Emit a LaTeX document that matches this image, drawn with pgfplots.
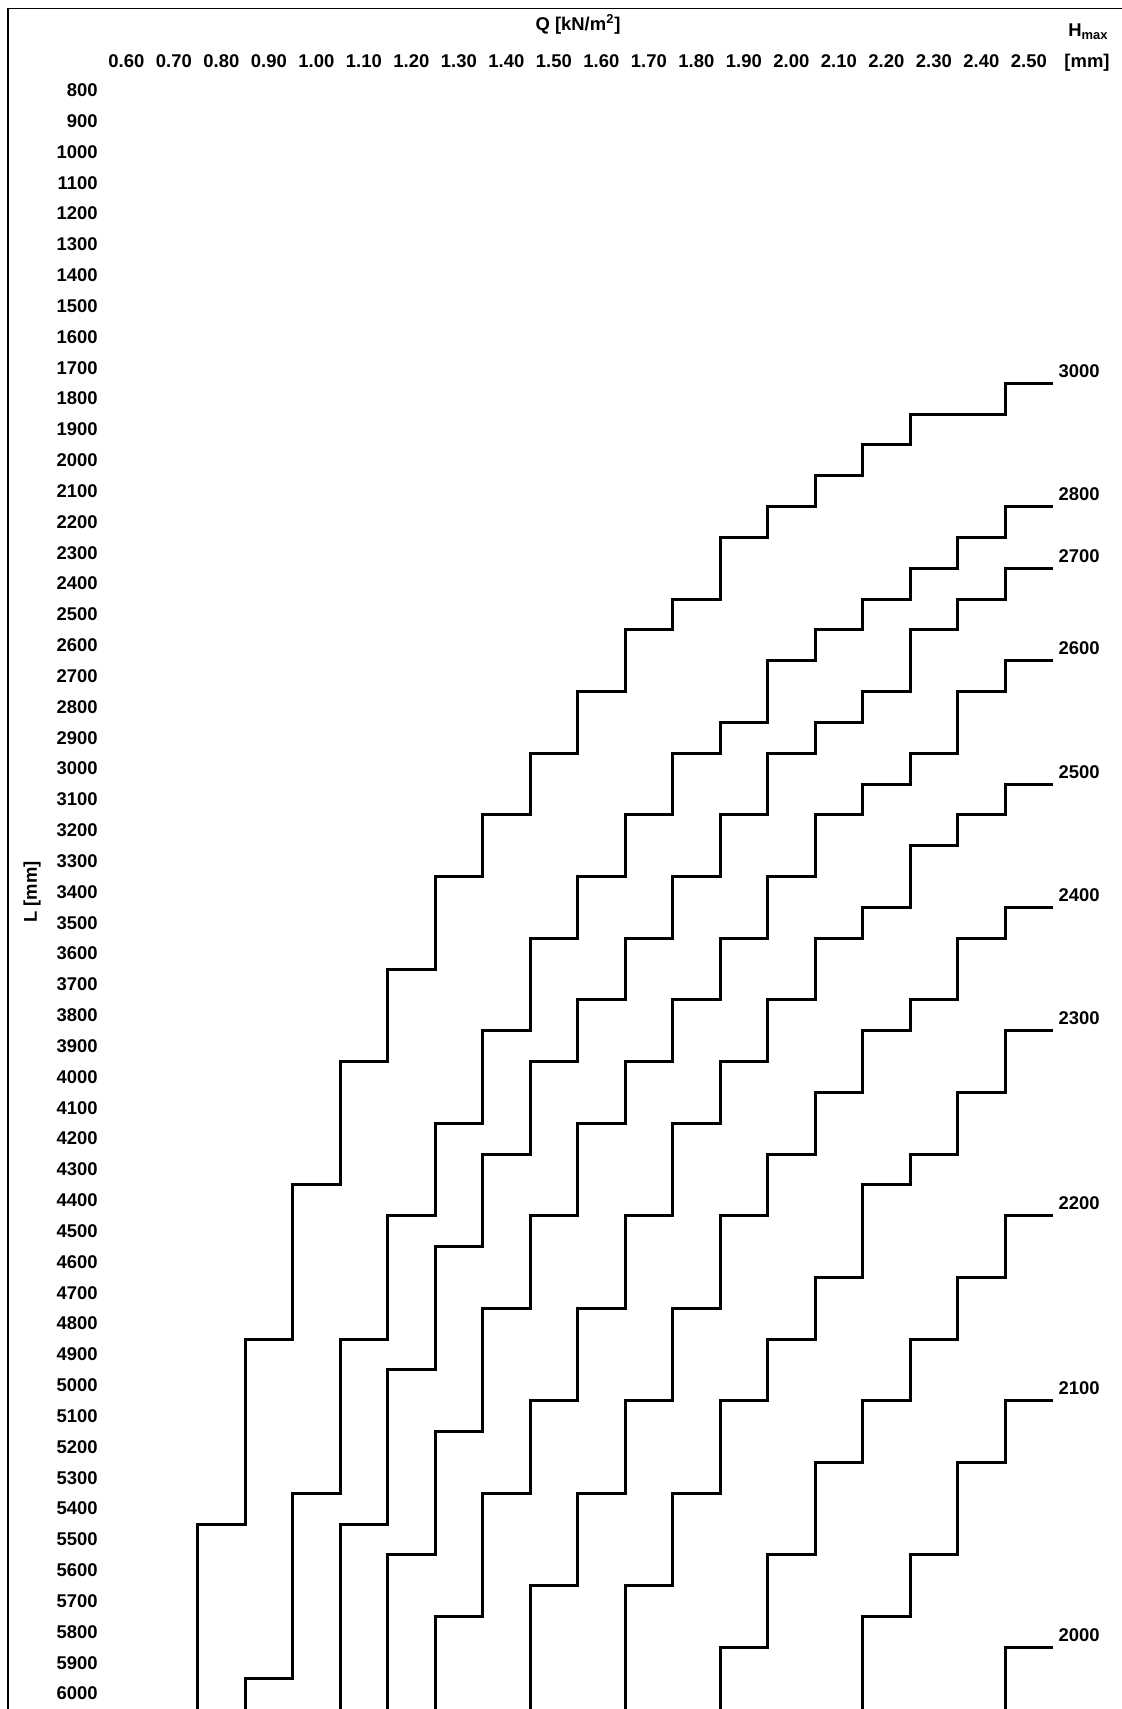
\documentclass[border=0pt]{standalone}
\usepackage{fontspec}
\setmainfont{Liberation Sans}
\usepackage{pgfplots}
\pgfplotsset{compat=1.18}
\newcommand\lab{\fontsize{10.5}{12.6}\selectfont\bfseries}
\tikzset{curvelab/.style={pos=0, anchor=base west, xshift=0.9mm, yshift=1.2mm, inner sep=0pt, font=\lab, black}}
\begin{document}
\begin{tikzpicture}
\useasboundingbox (0,0) rectangle (224.4mm,341.8mm);
\draw[line width=0.25mm] (1.6mm,0) -- (1.6mm,340.14mm) -- (224.4mm,340.14mm);
\begin{axis}[
  at={(19.6mm,0mm)}, anchor=south west,
  scale only axis, width=195.68mm, height=329.6mm,
  xmin=0.5402, xmax=2.6, ymin=705, ymax=6050,
  y dir=reverse,
  clip=false,
  axis line style={draw=none},
  major tick length=0pt,
  xtick={0.6,0.7,...,2.51},
  ytick={800,900,...,6000},
  xticklabel pos=upper,
  xticklabel style={anchor=center, inner sep=0pt, font=\lab},
  yticklabel style={anchor=east, inner sep=0pt, font=\lab},
  scaled ticks=false,
  x tick label style={/pgf/number format/.cd, fixed, fixed zerofill, precision=2, assume math mode=true},
  y tick label style={/pgf/number format/.cd, 1000 sep={}, assume math mode=true},
  cycle list={{black, solid}},
  every axis plot post/.append style={line width=0.6mm, black, solid, no markers, line join=miter},
]
\addplot coordinates {(2.55,1750)(2.45,1750)(2.45,1850)(2.25,1850)(2.25,1950)(2.15,1950)(2.15,2050)(2.05,2050)(2.05,2150)(1.95,2150)(1.95,2250)(1.85,2250)(1.85,2450)(1.75,2450)(1.75,2550)(1.65,2550)(1.65,2750)(1.55,2750)(1.55,2950)(1.45,2950)(1.45,3150)(1.35,3150)(1.35,3350)(1.25,3350)(1.25,3650)(1.15,3650)(1.15,3950)(1.05,3950)(1.05,4350)(0.95,4350)(0.95,4850)(0.85,4850)(0.85,5450)(0.75,5450)(0.75,6050)} node[curvelab] {3000};
\addplot coordinates {(2.55,2150)(2.45,2150)(2.45,2250)(2.35,2250)(2.35,2350)(2.25,2350)(2.25,2450)(2.15,2450)(2.15,2550)(2.05,2550)(2.05,2650)(1.95,2650)(1.95,2850)(1.85,2850)(1.85,2950)(1.75,2950)(1.75,3150)(1.65,3150)(1.65,3350)(1.55,3350)(1.55,3550)(1.45,3550)(1.45,3850)(1.35,3850)(1.35,4150)(1.25,4150)(1.25,4450)(1.15,4450)(1.15,4850)(1.05,4850)(1.05,5350)(0.95,5350)(0.95,5950)(0.85,5950)(0.85,6050)} node[curvelab] {2800};
\addplot coordinates {(2.55,2350)(2.45,2350)(2.45,2450)(2.35,2450)(2.35,2550)(2.25,2550)(2.25,2750)(2.15,2750)(2.15,2850)(2.05,2850)(2.05,2950)(1.95,2950)(1.95,3150)(1.85,3150)(1.85,3350)(1.75,3350)(1.75,3550)(1.65,3550)(1.65,3750)(1.55,3750)(1.55,3950)(1.45,3950)(1.45,4250)(1.35,4250)(1.35,4550)(1.25,4550)(1.25,4950)(1.15,4950)(1.15,5450)(1.05,5450)(1.05,6050)} node[curvelab] {2700};
\addplot coordinates {(2.55,2650)(2.45,2650)(2.45,2750)(2.35,2750)(2.35,2950)(2.25,2950)(2.25,3050)(2.15,3050)(2.15,3150)(2.05,3150)(2.05,3350)(1.95,3350)(1.95,3550)(1.85,3550)(1.85,3750)(1.75,3750)(1.75,3950)(1.65,3950)(1.65,4150)(1.55,4150)(1.55,4450)(1.45,4450)(1.45,4750)(1.35,4750)(1.35,5150)(1.25,5150)(1.25,5550)(1.15,5550)(1.15,6050)} node[curvelab] {2600};
\addplot coordinates {(2.55,3050)(2.45,3050)(2.45,3150)(2.35,3150)(2.35,3250)(2.25,3250)(2.25,3450)(2.15,3450)(2.15,3550)(2.05,3550)(2.05,3750)(1.95,3750)(1.95,3950)(1.85,3950)(1.85,4150)(1.75,4150)(1.75,4450)(1.65,4450)(1.65,4750)(1.55,4750)(1.55,5050)(1.45,5050)(1.45,5350)(1.35,5350)(1.35,5750)(1.25,5750)(1.25,6050)} node[curvelab] {2500};
\addplot coordinates {(2.55,3450)(2.45,3450)(2.45,3550)(2.35,3550)(2.35,3750)(2.25,3750)(2.25,3850)(2.15,3850)(2.15,4050)(2.05,4050)(2.05,4250)(1.95,4250)(1.95,4450)(1.85,4450)(1.85,4750)(1.75,4750)(1.75,5050)(1.65,5050)(1.65,5350)(1.55,5350)(1.55,5650)(1.45,5650)(1.45,6050)} node[curvelab] {2400};
\addplot coordinates {(2.55,3850)(2.45,3850)(2.45,4050)(2.35,4050)(2.35,4250)(2.25,4250)(2.25,4350)(2.15,4350)(2.15,4650)(2.05,4650)(2.05,4850)(1.95,4850)(1.95,5050)(1.85,5050)(1.85,5350)(1.75,5350)(1.75,5650)(1.65,5650)(1.65,6050)} node[curvelab] {2300};
\addplot coordinates {(2.55,4450)(2.45,4450)(2.45,4650)(2.35,4650)(2.35,4850)(2.25,4850)(2.25,5050)(2.15,5050)(2.15,5250)(2.05,5250)(2.05,5550)(1.95,5550)(1.95,5850)(1.85,5850)(1.85,6050)} node[curvelab] {2200};
\addplot coordinates {(2.55,5050)(2.45,5050)(2.45,5250)(2.35,5250)(2.35,5550)(2.25,5550)(2.25,5750)(2.15,5750)(2.15,6050)} node[curvelab] {2100};
\addplot coordinates {(2.55,5850)(2.45,5850)(2.45,6050)} node[curvelab] {2000};
\end{axis}
\node[font=\lab, anchor=base, inner sep=0pt] at (115.6mm,335.6mm) {Q [kN/m\textsuperscript{2}]};
\node[font=\lab, anchor=base west, inner sep=0pt] at (213.6mm,334.46mm) {H\textsubscript{max}};
\node[font=\lab, anchor=base, inner sep=0pt] at (217.4mm,328.3mm) {[mm]};
\node[font=\lab, rotate=90, anchor=center, inner sep=0pt] at (6.4mm,163.4mm) {L [mm]};
\end{tikzpicture}
\end{document}
